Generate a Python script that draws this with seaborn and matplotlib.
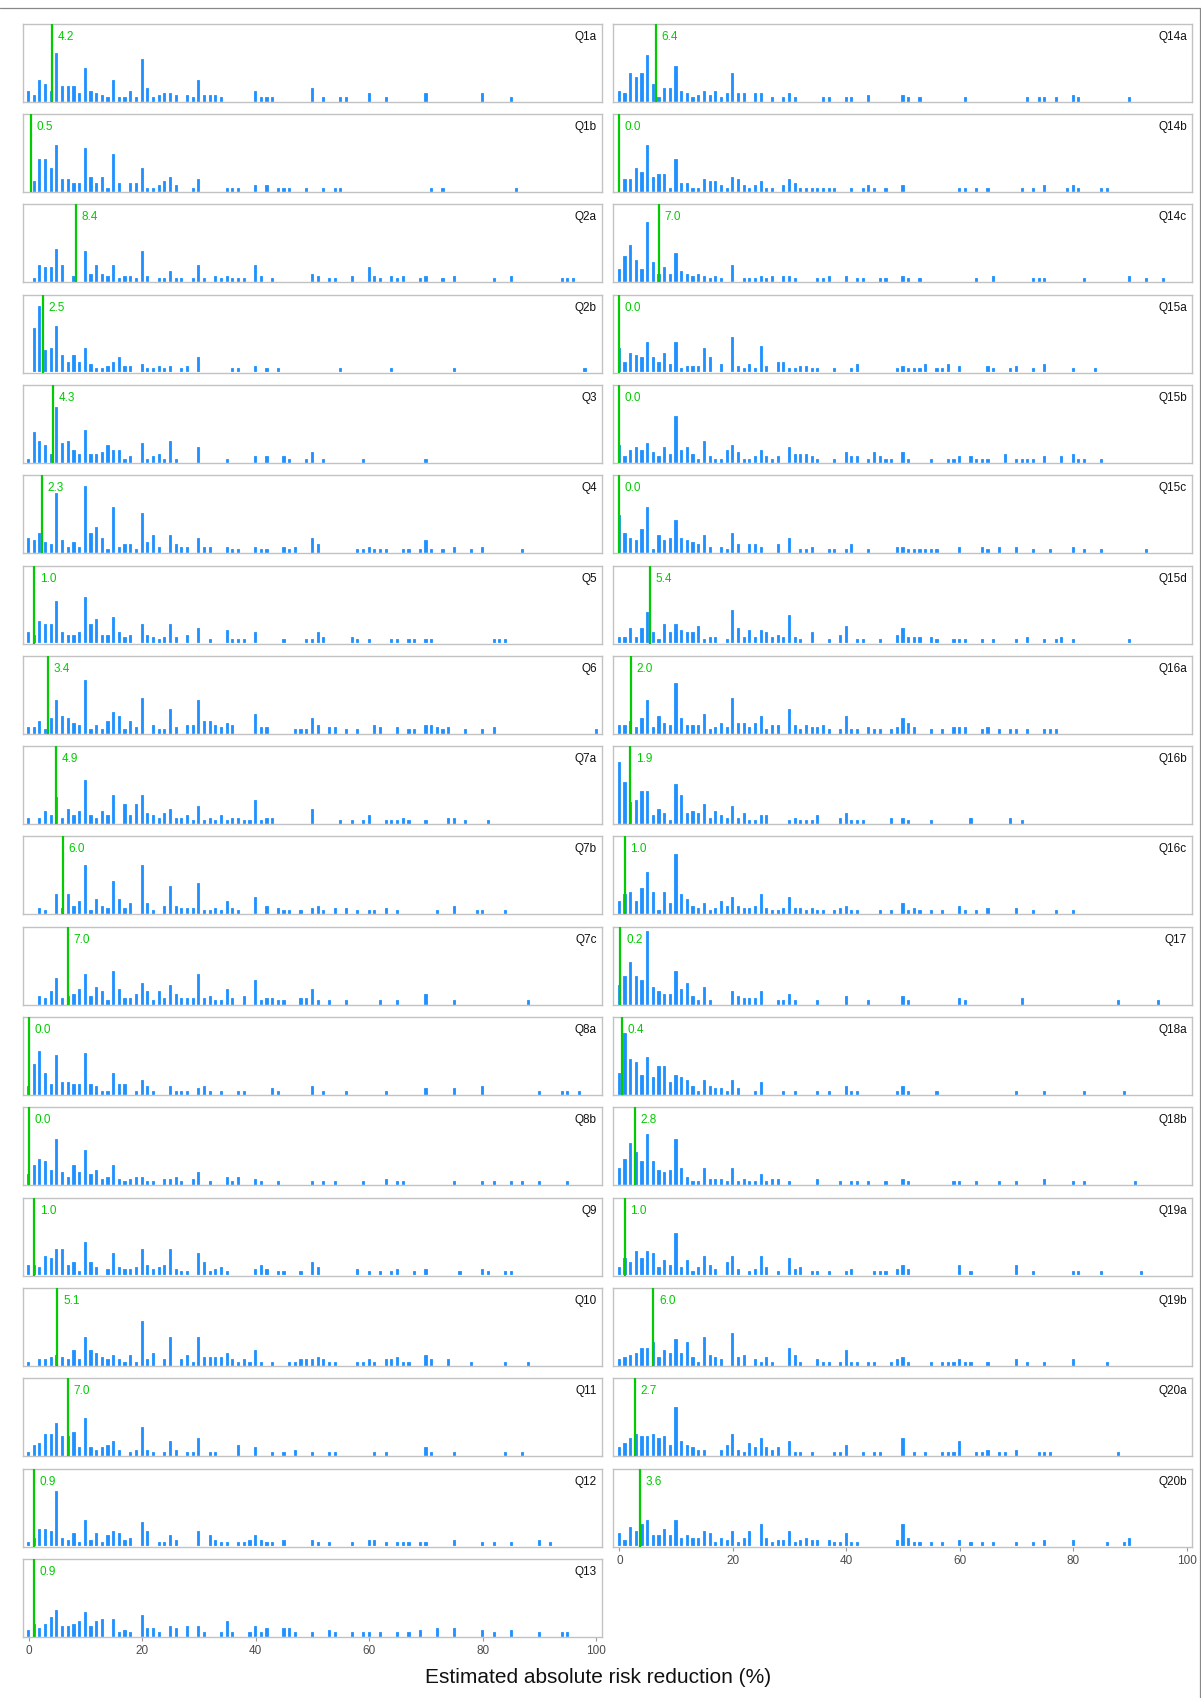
import matplotlib
matplotlib.use("Agg")
import matplotlib.pyplot as plt
import seaborn as sns
from matplotlib.lines import Line2D

# =========================
# DATA  (x = estimated ARR %, n = number of responses)
# =========================

q1a = [(0,4),(1,2),(2,9),(3,7),(4,4),(5,21),(6,6),(7,6),(8,6),(9,3),(10,14),(11,4),(12,3),(13,2),(14,1),(15,9),(16,1),(17,1),(18,4),(19,1),(20,18),(21,5),(22,1),(23,2),(24,3),(25,3),(26,2),(28,2),(29,1),(30,9),(31,2),(32,2),(33,2),(34,1),(40,4),(41,1),(42,1),(43,1),(50,5),(52,1),(55,1),(56,1),(60,3),(63,1),(70,3),(80,3),(85,1)]
q1b = [(1,4),(2,14),(3,14),(4,10),(5,20),(6,5),(7,5),(8,3),(9,3),(10,19),(11,6),(12,3),(13,6),(14,1),(15,16),(16,3),(18,3),(19,3),(20,10),(21,1),(22,1),(23,2),(24,4),(25,6),(26,2),(29,1),(30,5),(35,1),(36,1),(37,1),(40,2),(42,2),(44,1),(45,1),(46,1),(49,1),(52,1),(54,1),(55,1),(71,1),(73,1),(86,1)]
q2a = [(1,1),(2,7),(3,6),(4,6),(5,14),(6,7),(8,2),(10,13),(11,3),(12,7),(13,3),(14,2),(15,7),(16,1),(17,2),(18,2),(19,1),(20,13),(21,2),(23,1),(24,1),(25,4),(26,1),(27,1),(29,1),(30,7),(31,1),(33,2),(34,1),(35,2),(36,1),(37,1),(38,1),(40,7),(41,2),(43,1),(50,3),(51,2),(53,1),(54,1),(57,2),(60,6),(61,2),(62,1),(64,2),(65,1),(66,2),(69,1),(70,2),(73,1),(75,2),(82,1),(85,2),(94,1),(95,1),(96,1)]
q2b = [(1,19),(2,29),(3,9),(4,10),(5,20),(6,7),(7,4),(8,7),(9,4),(10,10),(11,3),(12,1),(13,1),(14,2),(15,4),(16,6),(17,2),(18,2),(20,3),(21,1),(22,1),(23,2),(24,1),(25,2),(27,1),(28,2),(30,6),(36,1),(37,1),(40,2),(42,1),(44,1),(55,1),(64,1),(75,1),(98,1)]
q3 = [(0,1),(1,13),(2,9),(3,7),(4,3),(5,24),(6,8),(7,9),(8,5),(9,3),(10,14),(11,3),(12,3),(13,4),(14,7),(15,5),(16,5),(17,1),(18,2),(20,8),(21,1),(22,2),(23,3),(24,1),(25,9),(26,1),(30,6),(35,1),(40,2),(42,2),(45,2),(46,1),(49,1),(50,4),(52,1),(59,1),(70,1)]
q4 = [(0,6),(1,5),(2,8),(3,4),(4,3),(5,26),(6,5),(7,2),(8,4),(9,2),(10,29),(11,8),(12,11),(13,6),(14,1),(15,20),(16,2),(17,3),(18,3),(19,1),(20,17),(21,4),(22,7),(23,2),(25,7),(26,3),(27,2),(28,2),(30,6),(31,2),(32,2),(35,2),(36,1),(37,1),(40,2),(41,1),(42,1),(45,2),(46,1),(47,2),(50,6),(51,3),(58,1),(59,1),(60,2),(61,1),(62,1),(63,1),(66,1),(67,1),(69,1),(70,5),(71,1),(73,1),(75,2),(78,1),(80,2),(87,1)]
q5 = [(0,4),(1,3),(2,9),(3,8),(4,8),(5,18),(6,4),(7,3),(8,3),(9,4),(10,20),(11,8),(12,10),(13,3),(14,3),(15,11),(16,4),(17,2),(18,3),(20,8),(21,3),(22,2),(23,1),(24,2),(25,8),(26,2),(28,3),(30,6),(32,1),(35,5),(36,1),(37,1),(38,1),(40,4),(45,1),(49,1),(50,1),(51,4),(52,2),(57,2),(58,1),(60,1),(64,1),(65,1),(67,1),(68,1),(70,1),(71,1),(82,1),(83,1),(84,1)]
q6 = [(0,2),(1,2),(2,5),(3,1),(4,6),(5,14),(6,7),(7,6),(8,4),(9,3),(10,23),(11,1),(12,3),(13,1),(14,5),(15,9),(16,7),(17,1),(18,5),(19,2),(20,15),(22,3),(23,1),(24,1),(25,10),(26,2),(28,3),(29,3),(30,14),(31,5),(32,5),(33,3),(34,2),(35,4),(36,3),(40,8),(41,2),(42,2),(47,1),(48,1),(49,1),(50,6),(51,3),(53,2),(54,2),(56,1),(58,1),(61,3),(62,2),(65,2),(67,1),(68,1),(70,3),(71,3),(72,2),(73,1),(74,2),(77,1),(80,1),(82,2),(100,1)]
q7a = [(0,2),(2,2),(3,5),(4,3),(5,11),(6,2),(7,6),(8,3),(9,5),(10,19),(11,3),(12,2),(13,5),(14,3),(15,12),(17,8),(18,3),(19,8),(20,12),(21,4),(22,3),(23,2),(24,4),(25,6),(26,2),(27,2),(28,3),(29,1),(30,7),(31,1),(32,2),(33,1),(34,3),(35,1),(36,2),(37,2),(38,1),(39,1),(40,10),(41,1),(42,2),(43,2),(50,6),(55,1),(57,1),(59,1),(60,3),(63,1),(64,1),(65,1),(66,2),(67,1),(70,1),(74,2),(75,2),(77,1),(81,1)]
q7b = [(2,2),(3,1),(5,8),(6,2),(7,8),(8,3),(9,5),(10,21),(11,1),(12,6),(13,3),(14,2),(15,14),(16,6),(17,2),(18,4),(20,21),(21,4),(22,1),(24,3),(25,12),(26,3),(27,2),(28,2),(29,2),(30,13),(31,1),(32,1),(33,2),(34,1),(35,5),(36,2),(37,1),(40,7),(42,3),(44,2),(45,1),(46,1),(48,1),(50,2),(51,3),(52,1),(54,2),(56,2),(58,1),(60,1),(61,1),(63,2),(65,1),(72,1),(75,3),(79,1),(80,1),(84,1)]
q7c = [(2,3),(3,2),(4,5),(5,11),(6,2),(7,3),(8,4),(9,6),(10,13),(11,3),(12,7),(13,5),(14,1),(15,14),(16,6),(17,2),(18,2),(19,4),(20,9),(21,5),(22,1),(23,5),(24,2),(25,8),(26,4),(27,2),(28,2),(29,2),(30,13),(31,2),(32,3),(33,1),(34,1),(35,6),(36,2),(38,3),(40,10),(41,1),(42,2),(43,2),(44,1),(45,1),(48,2),(49,2),(50,6),(51,1),(53,1),(56,1),(62,1),(65,1),(70,4),(75,1),(88,1)]
q8a = [(0,3),(1,13),(2,19),(3,9),(4,4),(5,17),(6,5),(7,5),(8,4),(9,4),(10,18),(11,4),(12,3),(13,1),(14,1),(15,9),(16,4),(17,4),(19,1),(20,6),(21,3),(22,1),(25,3),(26,1),(27,1),(28,1),(30,2),(31,3),(32,1),(34,1),(37,1),(38,1),(43,2),(44,1),(50,3),(52,1),(56,1),(63,1),(70,2),(75,2),(80,3),(90,1),(94,1),(95,1),(97,1)]
q8b = [(0,4),(1,8),(2,11),(3,10),(4,6),(5,20),(6,5),(7,3),(8,8),(9,5),(10,15),(11,4),(12,6),(13,2),(14,3),(15,8),(16,2),(17,1),(18,2),(19,3),(20,3),(21,1),(22,1),(24,2),(25,2),(26,3),(27,1),(29,2),(30,5),(32,1),(35,3),(36,1),(37,3),(40,2),(41,1),(44,1),(50,1),(52,1),(54,1),(59,1),(63,2),(65,1),(66,1),(75,1),(80,1),(82,1),(85,1),(87,1),(90,1),(95,1)]
q9 = [(0,4),(1,4),(2,3),(3,8),(4,7),(5,11),(6,11),(7,4),(8,5),(9,1),(10,14),(11,5),(12,3),(14,2),(15,9),(16,3),(17,2),(18,2),(19,3),(20,11),(21,4),(22,2),(23,3),(24,4),(25,11),(26,2),(27,1),(28,1),(30,9),(31,5),(32,1),(33,2),(34,3),(35,1),(40,2),(41,4),(42,2),(44,1),(45,1),(48,1),(50,5),(51,3),(58,2),(60,1),(62,1),(64,1),(65,2),(68,1),(70,2),(76,1),(80,2),(81,1),(84,1),(85,1)]
q10 = [(0,1),(2,2),(3,2),(4,3),(5,4),(6,3),(7,2),(8,6),(9,2),(10,12),(11,6),(12,5),(13,3),(14,2),(15,4),(16,2),(17,1),(18,4),(19,1),(20,19),(21,2),(22,5),(24,2),(25,12),(27,2),(28,4),(29,1),(30,12),(31,3),(32,3),(33,3),(34,3),(35,5),(36,2),(37,1),(38,2),(39,1),(40,6),(41,1),(43,1),(46,1),(47,1),(48,2),(49,2),(50,2),(51,3),(52,2),(53,1),(54,1),(58,1),(59,1),(60,2),(61,1),(63,2),(64,2),(65,3),(66,1),(67,1),(70,4),(71,2),(74,2),(78,1),(84,1),(88,1)]
q11 = [(0,1),(1,4),(2,5),(3,9),(4,9),(5,14),(6,8),(7,8),(8,10),(9,3),(10,16),(11,3),(12,2),(13,3),(14,4),(15,6),(16,2),(18,1),(19,2),(20,12),(21,2),(22,1),(24,1),(25,6),(26,2),(28,1),(29,1),(30,7),(32,1),(33,1),(37,4),(40,3),(43,1),(45,1),(47,2),(50,1),(53,1),(54,1),(61,1),(63,1),(70,3),(71,1),(75,1),(84,1),(87,1)]
q12 = [(0,1),(1,3),(2,7),(3,7),(4,6),(5,24),(6,3),(7,2),(8,5),(9,1),(10,11),(11,2),(12,5),(13,1),(14,4),(15,6),(16,5),(17,2),(18,3),(20,10),(21,6),(23,1),(24,1),(25,4),(26,2),(30,6),(32,4),(33,2),(34,1),(35,1),(37,1),(38,1),(39,2),(40,4),(41,2),(42,1),(43,1),(45,2),(50,2),(51,1),(53,1),(57,1),(60,2),(61,2),(63,1),(65,1),(66,1),(67,1),(69,1),(70,1),(75,2),(80,1),(82,1),(85,1),(90,2),(92,1)]
q13 = [(0,2),(1,5),(2,3),(3,5),(4,8),(5,11),(6,4),(7,4),(8,5),(9,6),(10,10),(11,4),(12,6),(13,7),(15,7),(16,1),(17,2),(18,1),(20,9),(21,3),(22,3),(23,1),(25,4),(26,3),(28,4),(30,4),(31,1),(34,1),(35,6),(36,1),(39,1),(40,4),(41,1),(42,3),(45,3),(46,3),(47,1),(50,1),(53,2),(54,1),(57,1),(59,1),(60,1),(62,1),(65,1),(67,1),(69,2),(72,3),(75,3),(80,2),(82,1),(85,2),(90,1),(94,1),(95,1)]

q14a = [(0,4),(1,3),(2,12),(3,10),(4,12),(5,20),(6,7),(7,1),(8,5),(9,5),(10,15),(11,4),(12,3),(13,1),(14,2),(15,4),(16,2),(17,4),(18,1),(19,3),(20,12),(21,3),(22,3),(24,3),(25,3),(27,1),(29,1),(30,3),(31,1),(36,1),(37,1),(40,1),(41,1),(44,2),(50,2),(51,1),(53,1),(61,1),(72,1),(74,1),(75,1),(77,1),(80,2),(81,1),(90,1)]
q14b = [(1,5),(2,5),(3,10),(4,8),(5,20),(6,6),(7,7),(8,7),(9,1),(10,14),(11,3),(12,3),(13,1),(14,1),(15,5),(16,4),(17,4),(18,2),(19,1),(20,6),(21,5),(22,2),(23,1),(24,2),(25,4),(26,1),(27,1),(29,2),(30,5),(31,3),(32,1),(33,1),(34,1),(35,1),(36,1),(37,1),(38,1),(41,1),(43,1),(44,2),(45,1),(47,1),(50,2),(60,1),(61,1),(63,1),(65,1),(71,1),(73,1),(75,2),(79,1),(80,2),(81,1),(85,1),(86,1)]
q14c = [(0,5),(1,11),(2,16),(3,9),(4,5),(5,26),(6,8),(7,3),(8,6),(9,3),(10,12),(11,4),(12,3),(13,2),(14,3),(15,2),(16,1),(17,2),(18,1),(20,7),(22,1),(23,1),(24,1),(25,2),(26,1),(27,2),(29,2),(30,2),(31,1),(35,1),(36,1),(37,2),(40,2),(42,1),(43,1),(46,1),(47,1),(50,2),(51,1),(53,1),(63,1),(66,2),(73,1),(74,1),(75,1),(82,1),(90,2),(93,1),(96,1)]
q15a = [(0,10),(1,4),(2,8),(3,7),(4,6),(5,13),(6,6),(7,4),(8,8),(9,3),(10,13),(11,1),(12,2),(13,2),(14,2),(15,10),(16,6),(18,3),(20,15),(21,2),(22,1),(23,3),(24,1),(25,11),(26,2),(28,4),(29,4),(30,1),(31,1),(32,2),(33,2),(34,1),(35,1),(38,1),(41,1),(42,3),(49,1),(50,2),(51,1),(52,1),(53,1),(54,3),(56,1),(57,1),(58,3),(60,2),(65,2),(66,1),(69,1),(70,2),(73,1),(75,3),(80,1),(84,1)]
q15b = [(0,7),(1,2),(2,5),(3,6),(4,5),(5,8),(6,4),(7,2),(8,6),(9,3),(10,20),(11,5),(12,6),(13,3),(14,1),(15,9),(16,2),(17,1),(18,1),(19,5),(20,7),(21,4),(22,1),(23,1),(24,2),(25,5),(26,2),(27,1),(28,2),(30,6),(31,3),(32,3),(33,3),(34,2),(35,1),(38,1),(40,4),(41,2),(42,2),(44,1),(45,4),(46,2),(47,1),(48,1),(50,4),(51,1),(55,1),(58,1),(59,1),(60,2),(62,2),(63,1),(64,1),(65,1),(68,3),(70,1),(71,1),(72,1),(73,1),(75,2),(78,2),(80,3),(81,1),(82,1),(85,1)]
q15c = [(0,16),(1,8),(2,6),(3,5),(4,10),(5,20),(6,1),(7,7),(8,5),(9,6),(10,14),(11,6),(12,5),(13,4),(14,3),(15,7),(16,2),(18,2),(19,1),(20,8),(21,3),(23,3),(24,3),(25,2),(28,3),(30,6),(32,1),(33,1),(34,2),(37,1),(38,1),(40,1),(41,3),(44,1),(49,2),(50,2),(51,1),(52,1),(53,1),(54,1),(55,1),(56,1),(60,2),(64,2),(65,1),(67,2),(70,2),(73,1),(76,1),(80,2),(82,1),(85,1),(93,1)]
q15d = [(0,2),(1,2),(2,6),(3,2),(4,6),(5,13),(6,4),(7,1),(8,8),(9,4),(10,8),(11,5),(12,4),(13,4),(14,7),(15,1),(16,2),(17,2),(19,1),(20,14),(21,6),(22,2),(23,5),(24,2),(25,5),(26,4),(27,2),(28,3),(29,2),(30,12),(31,2),(32,1),(34,4),(37,1),(39,3),(40,7),(42,1),(43,1),(46,1),(49,3),(50,6),(51,2),(52,2),(53,2),(55,2),(56,1),(59,1),(60,1),(61,1),(64,1),(66,1),(70,1),(72,2),(75,1),(77,1),(78,2),(80,1),(90,1)]
q16a = [(0,3),(1,3),(2,5),(3,2),(4,6),(5,14),(6,2),(7,7),(8,4),(9,3),(10,22),(11,6),(12,3),(13,3),(14,3),(15,8),(16,1),(17,2),(18,4),(19,2),(20,15),(21,4),(22,4),(23,2),(24,4),(25,7),(26,1),(27,3),(28,3),(30,10),(31,3),(32,1),(33,3),(34,2),(35,2),(36,3),(37,1),(39,1),(40,7),(41,1),(42,1),(44,2),(45,1),(46,1),(48,1),(49,2),(50,6),(51,4),(52,2),(55,1),(57,1),(59,2),(60,2),(61,2),(64,1),(65,2),(67,1),(69,1),(70,1),(72,1),(75,1),(76,1),(77,1)]
q16b = [(0,27),(1,18),(2,9),(3,10),(4,14),(5,14),(6,3),(7,6),(8,4),(9,1),(10,17),(11,12),(12,4),(13,5),(14,4),(15,8),(16,2),(17,5),(18,3),(19,2),(20,7),(21,2),(22,4),(23,1),(24,1),(25,3),(26,3),(30,1),(31,2),(32,1),(33,1),(34,1),(35,3),(39,2),(40,4),(41,1),(42,1),(43,1),(48,2),(50,2),(51,1),(55,1),(62,2),(69,2),(71,1)]
q16c = [(0,5),(1,8),(2,9),(3,5),(4,11),(5,18),(6,9),(7,1),(8,9),(9,4),(10,26),(11,8),(12,6),(13,3),(14,2),(15,4),(16,1),(17,2),(18,5),(19,3),(20,7),(21,3),(22,2),(23,2),(24,3),(25,8),(26,2),(27,1),(28,1),(29,2),(30,7),(31,2),(32,2),(33,1),(34,2),(35,1),(36,1),(38,1),(39,2),(40,3),(41,1),(42,1),(46,1),(48,1),(50,4),(51,1),(52,2),(53,1),(55,1),(57,1),(60,3),(61,1),(63,1),(65,2),(70,2),(73,1),(77,1),(80,1)]
q17 = [(0,8),(1,12),(2,18),(3,12),(4,10),(5,32),(6,7),(7,5),(8,4),(9,4),(10,14),(11,6),(12,9),(13,3),(14,1),(15,7),(16,1),(20,5),(21,3),(22,2),(23,2),(24,2),(25,5),(28,1),(29,1),(30,4),(31,1),(35,1),(40,3),(44,1),(50,3),(51,1),(60,2),(61,1),(71,2),(88,1),(95,1)]
q18a = [(0,9),(1,27),(2,15),(3,14),(4,8),(5,16),(6,7),(7,12),(8,12),(9,5),(10,8),(11,7),(12,6),(13,3),(14,1),(15,6),(16,3),(17,2),(18,2),(19,1),(20,6),(21,2),(24,1),(25,5),(29,1),(31,1),(35,1),(37,1),(40,3),(41,1),(42,1),(49,1),(50,3),(51,1),(56,1),(70,1),(75,1),(82,1),(89,1)]
q18b = [(0,7),(1,11),(2,18),(3,14),(4,10),(5,22),(6,10),(7,6),(8,5),(9,6),(10,20),(11,7),(12,3),(13,1),(14,1),(15,7),(16,2),(17,2),(18,2),(19,1),(20,7),(21,1),(22,2),(23,1),(24,1),(25,4),(26,1),(27,2),(28,2),(30,1),(35,2),(39,1),(41,1),(42,1),(44,1),(47,1),(50,2),(51,1),(59,1),(60,1),(63,1),(67,1),(70,1),(75,2),(80,1),(82,1),(91,1)]
q19a = [(0,3),(1,7),(2,5),(3,10),(4,7),(5,10),(6,9),(7,3),(8,6),(9,4),(10,18),(11,3),(12,6),(13,1),(14,3),(15,8),(16,4),(17,2),(19,5),(20,8),(21,2),(23,1),(24,2),(25,8),(26,3),(28,1),(30,7),(31,2),(32,3),(34,1),(35,1),(37,1),(40,1),(41,2),(45,1),(46,1),(47,1),(49,2),(50,4),(51,2),(60,4),(62,1),(70,4),(73,1),(80,1),(81,1),(85,1),(92,1)]
q19b = [(0,2),(1,3),(2,4),(3,5),(4,7),(5,7),(6,10),(7,3),(8,6),(9,5),(10,11),(11,5),(12,10),(13,3),(14,1),(15,12),(16,4),(17,3),(18,2),(20,14),(21,3),(22,4),(24,2),(25,1),(26,3),(27,1),(30,7),(31,4),(32,1),(35,2),(36,1),(37,1),(39,1),(40,6),(41,1),(42,1),(44,1),(45,1),(48,1),(49,2),(50,3),(51,1),(55,1),(57,1),(58,1),(59,1),(60,2),(61,1),(62,1),(65,1),(70,2),(72,1),(75,1),(80,2),(86,1)]
q20a = [(0,3),(1,5),(2,7),(3,9),(4,8),(5,8),(6,9),(7,7),(8,8),(9,4),(10,21),(11,6),(12,4),(13,3),(14,2),(15,2),(18,2),(19,4),(20,9),(21,2),(22,1),(23,5),(24,3),(25,7),(26,3),(27,2),(28,3),(30,6),(31,1),(32,1),(34,1),(38,1),(39,1),(40,4),(43,1),(45,1),(46,1),(50,7),(52,1),(54,1),(57,1),(58,1),(59,1),(60,6),(63,1),(64,1),(65,2),(67,1),(68,1),(70,2),(74,1),(75,1),(76,1),(88,1)]
q20b = [(0,5),(1,2),(2,8),(3,6),(4,9),(5,11),(6,4),(7,4),(8,7),(9,4),(10,11),(11,3),(12,4),(13,3),(14,3),(15,6),(16,5),(17,1),(18,3),(19,2),(20,6),(21,1),(22,3),(23,6),(25,9),(26,3),(27,1),(28,2),(29,2),(30,6),(31,1),(32,2),(33,3),(34,2),(35,2),(37,2),(38,1),(39,1),(40,5),(41,1),(42,1),(49,2),(50,9),(51,3),(52,1),(53,1),(55,1),(57,1),(60,2),(62,1),(64,1),(66,1),(70,1),(73,1),(75,2),(80,2),(86,1),(89,1),(90,3)]

left_names = ["Q1a", "Q1b", "Q2a", "Q2b", "Q3", "Q4", "Q5", "Q6", "Q7a", "Q7b",
              "Q7c", "Q8a", "Q8b", "Q9", "Q10", "Q11", "Q12", "Q13"]
left_medians = [4.2, 0.5, 8.4, 2.5, 4.3, 2.3, 1.0, 3.4, 4.9, 6.0,
                7.0, 0.0, 0.0, 1.0, 5.1, 7.0, 0.9, 0.9]
left_data = [q1a, q1b, q2a, q2b, q3, q4, q5, q6, q7a, q7b,
             q7c, q8a, q8b, q9, q10, q11, q12, q13]

right_names = ["Q14a", "Q14b", "Q14c", "Q15a", "Q15b", "Q15c", "Q15d", "Q16a", "Q16b",
               "Q16c", "Q17", "Q18a", "Q18b", "Q19a", "Q19b", "Q20a", "Q20b"]
right_medians = [6.4, 0.0, 7.0, 0.0, 0.0, 0.0, 5.4, 2.0, 1.9,
                 1.0, 0.2, 0.4, 2.8, 1.0, 6.0, 2.7, 3.6]
right_data = [q14a, q14b, q14c, q15a, q15b, q15c, q15d, q16a, q16b,
              q16c, q17, q18a, q18b, q19a, q19b, q20a, q20b]

xticks = [0, 20, 40, 60, 80, 100]

# =========================
# STYLE
# =========================

sns.set_style("white")
plt.rcParams["font.family"] = ["Liberation Sans", "DejaVu Sans"]

BLUE = "#1e90ff"
GREEN = "#00cc00"
BORDER = "#c2c2c2"

W, H = 1201, 1699
fig = plt.figure(figsize=(W / 100, H / 100), dpi=100)


def add_panel(x0, y0, w, h):
    return fig.add_axes([x0 / W, 1 - (y0 + h) / H, w / W, h / H])


def draw_panel(ax, name, median, pairs, xlim, show_ticks):
    xs = [p[0] for p in pairs]
    ns = [p[1] for p in pairs]
    sns.barplot(x=xs, y=ns, native_scale=True, orient="x", width=0.2,
                color=BLUE, saturation=1, edgecolor=BLUE, linewidth=1.3,
                errorbar=None, ax=ax)
    ax.axvline(median, color=GREEN, lw=1.6, zorder=5)
    ax.annotate(f"{median:.1f}", xy=(median, 0.845), xycoords=("data", "axes fraction"),
                xytext=(4, 0), textcoords="offset points", va="center", ha="left",
                color=GREEN, fontsize=8.5)
    ax.text(0.991, 0.845, name, transform=ax.transAxes, ha="right", va="center",
            fontsize=8.5, color="#111111")
    ax.set_xlim(*xlim)
    ax.set_ylim(-0.5, 34.5)
    ax.set_xlabel("")
    ax.set_ylabel("")
    ax.set_yticks([])
    for sp in ax.spines.values():
        sp.set_color(BORDER)
        sp.set_linewidth(1.0)
    if show_ticks:
        ax.set_xticks(xticks)
        ax.set_xticklabels([str(t) for t in xticks])
        ax.tick_params(axis="x", length=3, width=0.8, color="#999999",
                       labelsize=8.5, labelcolor="#4d4d4d", pad=2.5, bottom=True)
    else:
        ax.set_xticks([])


# =========================
# PANELS
# =========================

top0, pitch, ph = 24.7, 90.3, 78.0

for i, (name, med, pairs) in enumerate(zip(left_names, left_medians, left_data)):
    ax = add_panel(23.3, top0 + pitch * i, 578.7, ph)
    draw_panel(ax, name, med, pairs, (-0.92, 101.0), i == len(left_names) - 1)

for i, (name, med, pairs) in enumerate(zip(right_names, right_medians, right_data)):
    ax = add_panel(613.3, top0 + pitch * i, 578.7, ph)
    draw_panel(ax, name, med, pairs, (-1.06, 100.95), i == len(right_names) - 1)

fig.text(598 / W, 1 - 1678 / H, "Estimated absolute risk reduction (%)",
         ha="center", va="center", fontsize=15, color="#111111")

# outer frame (top and right edges of the page box)
fig.add_artist(Line2D([0, 1199.5 / W], [1 - 9 / H, 1 - 9 / H], transform=fig.transFigure,
                      color="#888888", lw=0.9))
fig.add_artist(Line2D([1199.5 / W, 1199.5 / W], [0, 1 - 9 / H], transform=fig.transFigure,
                      color="#888888", lw=0.9))

fig.savefig("out.png", dpi=100)
